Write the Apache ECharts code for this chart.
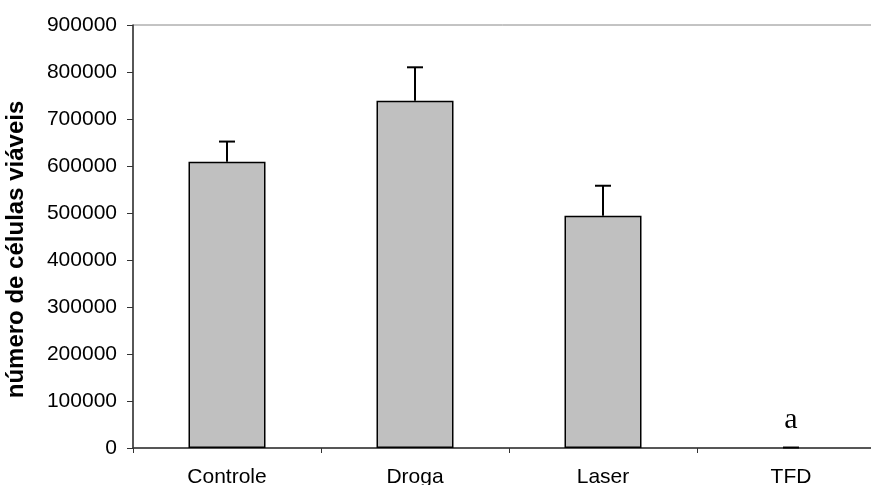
<!DOCTYPE html>
<html>
<head>
<meta charset="utf-8">
<script src="https://cdn.jsdelivr.net/npm/echarts@6/dist/echarts.min.js"></script>
<style>
html,body{margin:0;padding:0;background:#fff;}
#main{width:871px;height:485px;}
</style>
</head>
<body>
<div id="main"></div>
<script>
var categories = ['Controle', 'Droga', 'Laser', 'TFD'];
var means = [609000, 739000, 494000, 0];
var errors = [43000, 71000, 64000, 1000];
var letters = ['', '', '', 'a'];
var yTicks = [0, 100000, 200000, 300000, 400000, 500000, 600000, 700000, 800000, 900000];
var yTitle = 'número de células viáveis';

var chart = echarts.init(document.getElementById('main'), null, {renderer: 'canvas'});

var barData = means.map(function (v, i) {
  return {
    value: v,
    itemStyle: v === 0 ? {borderWidth: 0} : undefined,
    label: {
      show: letters[i] !== '',
      formatter: letters[i],
      position: 'top',
      distance: 13,
      fontFamily: '"Liberation Serif", "Times New Roman", serif',
      fontSize: 30,
      color: '#000'
    }
  };
});

var errData = means.map(function (v, i) { return [i, v, v + errors[i]]; });

chart.setOption({
  animation: false,
  backgroundColor: '#fff',
  grid: {
    left: 133, top: 25, width: 752, height: 423,
    containLabel: false,
    outerBoundsMode: 'none',
    show: true, borderColor: '#888', borderWidth: 1, backgroundColor: 'transparent'
  },
  xAxis: {
    type: 'category',
    data: categories,
    axisLine: {lineStyle: {color: '#333', width: 1.5}},
    axisTick: {show: true, length: 5, alignWithLabel: false, lineStyle: {color: '#333'}},
    axisLabel: {
      color: '#000', fontSize: 21, margin: 19,
      fontFamily: '"Liberation Sans", Arial, sans-serif'
    }
  },
  yAxis: {
    type: 'value',
    min: yTicks[0],
    max: yTicks[yTicks.length - 1],
    interval: yTicks[1] - yTicks[0],
    name: yTitle,
    nameLocation: 'middle',
    nameGap: 105,
    nameTextStyle: {
      color: '#000', fontSize: 24, fontWeight: 'bold',
      fontFamily: '"Liberation Sans", Arial, sans-serif',
      padding: [0, 26, 0, 0]
    },
    axisLine: {show: true, lineStyle: {color: '#333', width: 1.5}},
    axisTick: {show: true, length: 6, lineStyle: {color: '#333'}},
    splitLine: {show: false},
    axisLabel: {
      color: '#000', fontSize: 21, margin: 16,
      fontFamily: '"Liberation Sans", Arial, sans-serif',
      formatter: function (v) { return String(v); }
    }
  },
  series: [
    {
      type: 'bar',
      data: barData,
      barWidth: 77,
      itemStyle: {color: '#c0c0c0', borderColor: '#000', borderWidth: 1.5}
    },
    {
      type: 'custom',
      data: errData,
      z: 5,
      renderItem: function (params, api) {
        var x = api.value(0);
        var p0 = api.coord([x, api.value(1)]);
        var p1 = api.coord([x, api.value(2)]);
        var half = 8;
        var st = {stroke: '#000', lineWidth: 2};
        return {
          type: 'group',
          children: [
            {type: 'line', shape: {x1: p0[0], y1: p0[1], x2: p1[0], y2: p1[1]}, style: st},
            {type: 'line', shape: {x1: p1[0] - half, y1: p1[1], x2: p1[0] + half, y2: p1[1]}, style: st}
          ]
        };
      }
    }
  ]
});
</script>
</body>
</html>
